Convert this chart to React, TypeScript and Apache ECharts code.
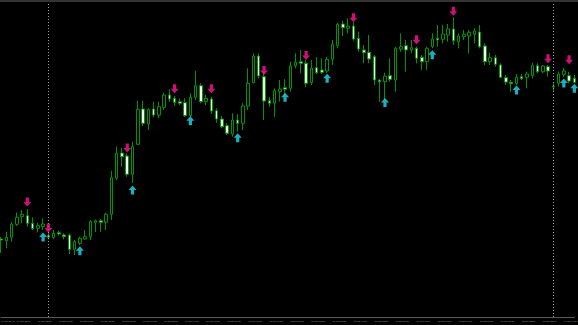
import React, { useEffect, useRef } from "react";
import * as echarts from "echarts";

// M15 bars, EURUSD-like prices
const openPrices = [
  1.1761, 1.17593, 1.17627, 1.17757, 1.17833, 1.17843, 1.17767, 1.17717, 1.17733, 1.17643,
  1.17627, 1.17673, 1.1765, 1.1765, 1.17507, 1.17567, 1.1761, 1.17633, 1.17777, 1.17793,
  1.17777, 1.17857, 1.1822, 1.1847, 1.1844, 1.18257, 1.18557, 1.1891, 1.1876, 1.1891,
  1.1885, 1.18927, 1.1905, 1.19017, 1.18983, 1.18973, 1.18843, 1.19027, 1.19143, 1.18983,
  1.1901, 1.18893, 1.1881, 1.18743, 1.1866, 1.188, 1.18767, 1.1894, 1.19173, 1.1944,
  1.19233, 1.18993, 1.18967, 1.19083, 1.19123, 1.19117, 1.19343, 1.19383, 1.19367, 1.19173,
  1.19323, 1.193, 1.1929, 1.19407, 1.19543, 1.1976, 1.19717, 1.1974, 1.19617, 1.195,
  1.19477, 1.19433, 1.192, 1.19183, 1.19243, 1.192, 1.1951, 1.19543, 1.195, 1.19517,
  1.19427, 1.19383, 1.19533, 1.19617, 1.19607, 1.1965, 1.1971, 1.19583, 1.19633, 1.1964,
  1.19657, 1.1968, 1.1954, 1.19383, 1.19423, 1.1935, 1.19223, 1.19177, 1.19167, 1.19233,
  1.19227, 1.19243, 1.19343, 1.19283, 1.19333, 1.19137, 1.19167, 1.19257, 1.19243, 1.19217,
];
const highPrices = [
  1.1763, 1.17683, 1.17783, 1.17875, 1.179, 1.17907, 1.17827, 1.17773, 1.17817, 1.1768,
  1.177, 1.1769, 1.17667, 1.17665, 1.176, 1.17633, 1.177, 1.178, 1.17805, 1.17807,
  1.17873, 1.18293, 1.18533, 1.18523, 1.18467, 1.18583, 1.18993, 1.18993, 1.18917, 1.18983,
  1.18983, 1.19073, 1.19107, 1.1904, 1.19017, 1.19017, 1.19067, 1.19293, 1.19167, 1.1905,
  1.19033, 1.18917, 1.1884, 1.18767, 1.18867, 1.1886, 1.18967, 1.19317, 1.19467, 1.19467,
  1.19283, 1.1903, 1.19117, 1.192, 1.19207, 1.19383, 1.19467, 1.195, 1.194, 1.194,
  1.1943, 1.19417, 1.19433, 1.196, 1.19773, 1.19793, 1.19817, 1.19783, 1.19683, 1.1955,
  1.1965, 1.1945, 1.19205, 1.19273, 1.19417, 1.19533, 1.19667, 1.196, 1.196, 1.19533,
  1.1945, 1.19533, 1.19667, 1.1975, 1.1975, 1.1976, 1.19827, 1.19667, 1.197, 1.197,
  1.19717, 1.1975, 1.19567, 1.19473, 1.1945, 1.19367, 1.1925, 1.192, 1.1926, 1.1926,
  1.19283, 1.19373, 1.19367, 1.1935, 1.1935, 1.19167, 1.19283, 1.1932, 1.19283, 1.1925,
];
const lowPrices = [
  1.1747, 1.17517, 1.17583, 1.1774, 1.17767, 1.17733, 1.177, 1.17677, 1.177, 1.17605,
  1.1761, 1.17645, 1.17607, 1.1746, 1.1745, 1.1755, 1.176, 1.176, 1.1768, 1.17683,
  1.177, 1.178, 1.182, 1.18333, 1.18233, 1.1817, 1.1855, 1.1874, 1.187, 1.18827,
  1.18817, 1.189, 1.18983, 1.1894, 1.1895, 1.18833, 1.1883, 1.19, 1.18967, 1.1895,
  1.1886, 1.18773, 1.18717, 1.1865, 1.18633, 1.18683, 1.187, 1.189, 1.19167, 1.19217,
  1.188, 1.18933, 1.18833, 1.18983, 1.1905, 1.19083, 1.19317, 1.19267, 1.19127, 1.1915,
  1.1926, 1.1926, 1.19267, 1.1935, 1.19517, 1.1964, 1.19667, 1.19593, 1.19483, 1.19367,
  1.19367, 1.1915, 1.18983, 1.19, 1.19183, 1.19083, 1.19483, 1.19283, 1.19467, 1.19367,
  1.193, 1.193, 1.19517, 1.19533, 1.19567, 1.19583, 1.1955, 1.19517, 1.196, 1.19467,
  1.19567, 1.19517, 1.1935, 1.1935, 1.19333, 1.19217, 1.1915, 1.19083, 1.1915, 1.192,
  1.19117, 1.19217, 1.19267, 1.19267, 1.19233, 1.19083, 1.19133, 1.1923, 1.19167, 1.19167,
];
const closePrices = [
  1.176, 1.17627, 1.1776, 1.17827, 1.17857, 1.17767, 1.17713, 1.17743, 1.1776, 1.17627,
  1.17667, 1.1766, 1.17633, 1.17507, 1.17583, 1.17617, 1.17633, 1.17783, 1.17793, 1.17777,
  1.17857, 1.18223, 1.18467, 1.18433, 1.18257, 1.18533, 1.18907, 1.18767, 1.18907, 1.1885,
  1.18933, 1.1905, 1.1901, 1.18977, 1.18967, 1.18843, 1.19027, 1.19143, 1.18983, 1.19017,
  1.1889, 1.1881, 1.18733, 1.18667, 1.188, 1.18767, 1.1894, 1.19167, 1.1944, 1.1924,
  1.1899, 1.18967, 1.19093, 1.1911, 1.19107, 1.1934, 1.19377, 1.19367, 1.19167, 1.19317,
  1.19273, 1.19277, 1.19407, 1.19557, 1.19757, 1.19723, 1.1974, 1.1961, 1.1951, 1.19473,
  1.1941, 1.192, 1.19183, 1.1924, 1.19207, 1.19517, 1.19533, 1.195, 1.19523, 1.19417,
  1.19383, 1.19517, 1.1961, 1.196, 1.1966, 1.1971, 1.19593, 1.1964, 1.19657, 1.19677,
  1.1969, 1.19533, 1.19383, 1.19423, 1.19357, 1.19227, 1.1918, 1.19163, 1.19227, 1.19213,
  1.1926, 1.19343, 1.19283, 1.1934, 1.1929, 1.1913, 1.1926, 1.1929, 1.1919, 1.19177,
];

// Indicator arrows: [bar index, price]
const sellArrows = [
  [5, 1.1798], [9, 1.1772], [24, 1.1852], [33, 1.19113], [40, 1.19112], [50, 1.19295],
  [58, 1.19445], [67, 1.19822], [79, 1.19603], [86, 1.19888], [104, 1.19412], [108, 1.19403],
];
const buyArrows = [
  [8, 1.1763], [15, 1.17492], [25, 1.181], [36, 1.18792], [45, 1.18622], [54, 1.19028],
  [62, 1.19217], [73, 1.18975], [82, 1.19452], [98, 1.191], [107, 1.1917], [109, 1.19117],
];

const separatorBars = [9, 105];
const firstBarTime = "2023-10-17T21:45:00Z";
const barMinutes = 15;
const labelEvery = 4;
const monthNames = ["Jan", "Feb", "Mar", "Apr", "May", "Jun", "Jul", "Aug", "Sep", "Oct", "Nov", "Dec"];

function buildTimes(n: number): string[] {
  const start = Date.parse(firstBarTime);
  const out: string[] = [];
  for (let i = 0; i < n; i++) {
    const d = new Date(start + i * barMinutes * 60000);
    const hh = String(d.getUTCHours()).padStart(2, "0");
    const mm = String(d.getUTCMinutes()).padStart(2, "0");
    out.push(`${d.getUTCDate()} ${monthNames[d.getUTCMonth()]} ${hh}:${mm}`);
  }
  return out;
}

const GREEN = "#009400";
const UP_ARROW = "path://M5,0 L10,5 L7,5 L7,10 L3,10 L3,5 L0,5 Z";
const DOWN_ARROW = "path://M3,0 L7,0 L7,5 L10,5 L5,10 L0,5 L3,5 Z";

export default function App() {
  const ref = useRef<HTMLDivElement>(null);
  useEffect(() => {
    if (!ref.current) return;
    const chart = echarts.init(ref.current, undefined, { renderer: "svg" });
    const times = buildTimes(openPrices.length);
    const ohlc = openPrices.map((o, i) => [o, closePrices[i], lowPrices[i], highPrices[i]]);
    chart.setOption({
      animation: false,
      backgroundColor: "#000000",
      grid: { left: 1, right: 3.66, top: 2, bottom: 8, containLabel: false, outerBoundsMode: "none" },
      graphic: [
        { type: "rect", left: 0, top: 0, shape: { width: 578, height: 2 }, style: { fill: "#333333" }, silent: true },
      ],
      xAxis: {
        type: "category",
        data: times,
        boundaryGap: false,
        axisLine: { show: true, lineStyle: { color: "#5a5a5a", width: 1 } },
        axisTick: { show: false },
        splitLine: { show: false },
        axisLabel: {
          interval: (i: number) => i === 0 || i % labelEvery === labelEvery - 1,
          color: "#9a9a9a",
          fontSize: 2.4,
          fontFamily: "Liberation Sans",
          align: "left",
          margin: 3,
          hideOverlap: false,
        },
      },
      yAxis: {
        type: "value",
        min: 1.1683,
        max: 1.1998,
        show: false,
        splitLine: { show: false },
      },
      series: [
        {
          type: "candlestick",
          data: ohlc,
          barWidth: 3,
          itemStyle: {
            color: "#000000",
            color0: "#f0fff0",
            borderColor: GREEN,
            borderColor0: GREEN,
            borderColorDoji: GREEN,
            borderWidth: 1,
          },
          markLine: {
            silent: true,
            symbol: ["none", "none"],
            label: { show: false },
            lineStyle: { color: "#a0a0a0", type: [1, 2], width: 1 },
            data: separatorBars.map((b) => ({ xAxis: times[b] })),
          },
        },
        {
          type: "scatter",
          data: sellArrows,
          symbol: DOWN_ARROW,
          symbolSize: [8, 9],
          itemStyle: { color: "#ff1493" },
          z: 5,
        },
        {
          type: "scatter",
          data: buyArrows,
          symbol: UP_ARROW,
          symbolSize: [8, 9],
          itemStyle: { color: "#22dcef" },
          z: 5,
        },
      ],
    });
    return () => chart.dispose();
  }, []);
  return (
    <div
      ref={ref}
      style={{ position: "fixed", left: 0, top: 0, width: 578, height: 325, background: "#000" }}
    />
  );
}
